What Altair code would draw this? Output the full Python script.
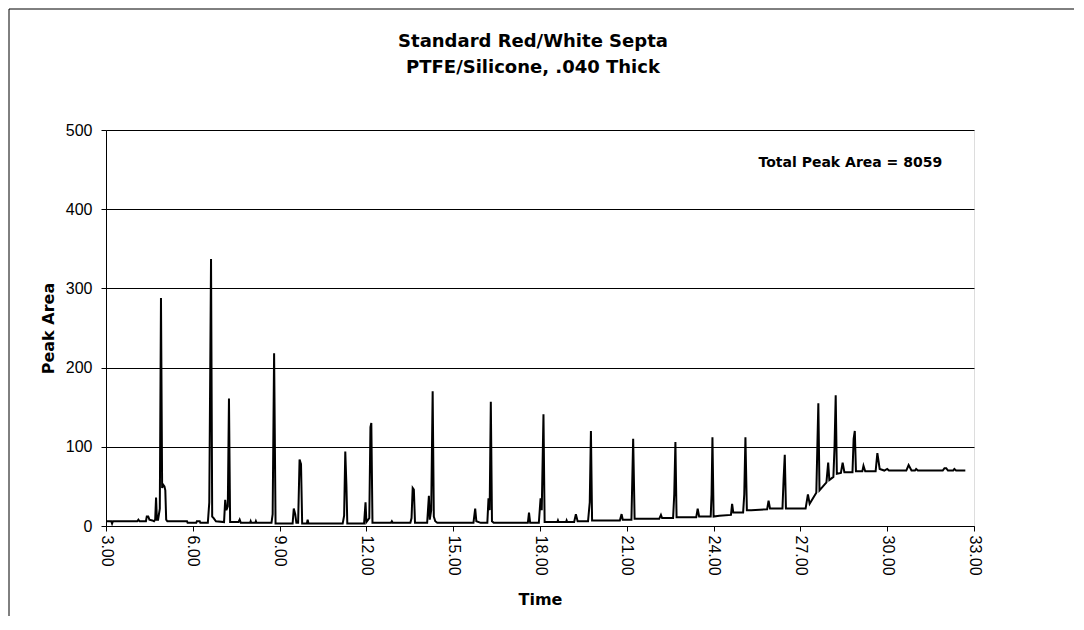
import altair as alt
import pandas as pd

# Chromatogram trace (time in minutes, peak area)
time = [
    3.00, 3.18, 3.21, 3.24, 4.08, 4.12, 4.16, 4.38, 4.41, 4.46, 4.50, 4.60, 4.66, 4.70, 4.73, 4.76,
    4.80, 4.86, 4.90, 4.94, 4.98, 5.02, 5.05, 5.08, 5.12, 5.80, 5.82, 6.12, 6.14, 6.24, 6.26, 6.52,
    6.57, 6.63, 6.67, 6.72, 6.80, 7.08, 7.12, 7.16, 7.21, 7.25, 7.29, 7.58, 7.62, 7.66, 7.98, 8.00,
    8.02, 8.16, 8.18, 8.20, 8.72, 8.76, 8.81, 8.86, 9.45, 9.49, 9.54, 9.58, 9.64, 9.69, 9.74, 9.78,
    9.94, 9.97, 10.00, 11.18, 11.23, 11.27, 11.31, 11.34, 11.92, 11.97, 12.00, 12.10, 12.14, 12.17,
    12.21, 12.85, 12.88, 12.91, 13.52, 13.56, 13.60, 13.64, 13.68, 14.10, 14.16, 14.19, 14.24, 14.29,
    14.33, 14.38, 14.45, 15.70, 15.76, 15.80, 15.95, 16.18, 16.22, 16.26, 16.30, 16.34, 16.40, 17.58,
    17.62, 17.66, 17.96, 18.02, 18.06, 18.12, 18.16, 18.60, 18.62, 18.64, 18.90, 18.92, 18.94, 19.18,
    19.24, 19.30, 19.66, 19.72, 19.76, 19.80, 20.76, 20.82, 20.86, 21.16, 21.22, 21.27, 22.12, 22.18,
    22.22, 22.60, 22.64, 22.68, 22.72, 23.40, 23.45, 23.50, 23.90, 23.93, 23.96, 24.00, 24.20, 24.60,
    24.64, 24.68, 25.02, 25.06, 25.10, 25.15, 25.30, 25.85, 25.90, 25.95, 26.38, 26.42, 26.46, 26.50,
    27.18, 27.26, 27.32, 27.55, 27.62, 27.66, 27.90, 27.96, 28.00, 28.14, 28.18, 28.22, 28.26, 28.40,
    28.46, 28.52, 28.80, 28.84, 28.88, 28.92, 29.14, 29.18, 29.24, 29.60, 29.66, 29.74, 29.90, 30.00,
    30.06, 30.66, 30.74, 30.84, 30.96, 31.00, 31.06, 31.92, 31.98, 32.04, 32.10, 32.28, 32.32, 32.38,
    32.70,
]
area = [
    6, 6, 3, 6, 6, 8, 6, 6, 12, 12, 8, 7, 6, 8, 36, 8,
    8, 22, 288, 48, 52, 50, 45, 8, 6, 6, 4, 4, 6, 6, 4, 4,
    30, 337, 12, 10, 6, 5, 33, 20, 25, 161, 5, 5, 8, 4, 4, 6,
    4, 4, 6, 4, 4, 15, 218, 3, 3, 22, 15, 4, 4, 84, 78, 3,
    3, 8, 3, 3, 13, 94, 50, 3, 3, 30, 5, 10, 125, 130,
    4, 4, 6, 4, 4, 10, 48, 46, 4, 4, 38, 8, 20, 170,
    12, 6, 4, 4, 22, 6, 4, 4, 35, 20, 157, 6, 4, 4,
    17, 4, 4, 35, 20, 141, 5, 5, 7, 5, 5, 7, 5, 5,
    15, 6, 6, 30, 120, 7, 7, 15, 8, 8, 110, 9, 9, 14,
    10, 10, 40, 106, 11, 11, 22, 12, 12, 40, 112, 12, 13, 14,
    28, 17, 17, 40, 112, 20, 20, 21, 32, 22, 22, 60, 90, 22,
    22, 40, 28, 42, 155, 45, 55, 80, 58, 62, 100, 165, 66, 67,
    80, 68, 68, 110, 120, 69, 69, 76, 69, 69, 92, 72, 70, 72,
    70, 70, 77, 70, 70, 72, 70, 70, 73, 73, 70, 70, 72, 70,
    70,
]

x_ticks = [3, 6, 9, 12, 15, 18, 21, 24, 27, 30, 33]
y_ticks = [0, 100, 200, 300, 400, 500]
title_lines = ["Standard Red/White Septa", "PTFE/Silicone, .040 Thick"]
note_text = ["Total Peak Area = 8059"]
note_time = [31.9]
note_area = [458]

df = pd.DataFrame({"time": time, "area": area, "idx": list(range(len(time)))})
notes = pd.DataFrame({"time": note_time, "area": note_area, "label": note_text})
titles1 = pd.DataFrame({"label": [title_lines[0]]})
titles2 = pd.DataFrame({"label": [title_lines[1]]})

x_scale = alt.Scale(domain=[3, 33], nice=False, zero=False)
y_scale = alt.Scale(domain=[0, 500], nice=False)

line = alt.Chart(df).mark_line(color="black", strokeWidth=2, interpolate="linear").encode(
    x=alt.X("time:Q", scale=x_scale,
            axis=alt.Axis(values=x_ticks, format=".2f", labelAngle=90, grid=False,
                          title="Time", titleX=434, titleY=73, titleAlign="center",
                          titleBaseline="middle", titleFont="DejaVu Sans", titleFontSize=16,
                          titleFontWeight="bold", titleColor="black",
                          labelFont="Liberation Sans", labelFontSize=16, labelColor="black",
                          labelPadding=4, tickSize=5, tickColor="black",
                          domainColor="black", labelFlush=False, labelOverlap=False)),
    y=alt.Y("area:Q", scale=y_scale,
            axis=alt.Axis(values=y_ticks, grid=True, gridColor="black", gridWidth=1,
                          gridOpacity=1, title="Peak Area", titleX=-58, titleY=198,
                          titleAngle=270, titleAlign="center", titleBaseline="middle",
                          titleFont="DejaVu Sans", titleFontSize=16, titleFontWeight="bold",
                          titleColor="black", labelFont="Liberation Sans", labelFontSize=16,
                          labelColor="black", labelPadding=9, tickSize=5, tickColor="black",
                          domainColor="black", labelFlush=False)),
    order="idx:Q",
)

note = alt.Chart(notes).mark_text(align="right", baseline="middle", font="DejaVu Sans",
                                  fontSize=14, fontWeight="bold", color="black").encode(
    x=alt.X("time:Q", scale=x_scale),
    y=alt.Y("area:Q", scale=y_scale),
    text="label:N",
)

title_style = dict(align="center", baseline="middle", font="DejaVu Sans", fontSize=18,
                   fontWeight="bold", color="black")
title1 = alt.Chart(titles1).mark_text(**title_style).encode(
    x=alt.value(427), y=alt.value(-88), text="label:N")
title2 = alt.Chart(titles2).mark_text(**title_style).encode(
    x=alt.value(427), y=alt.value(-62), text="label:N")

frame_left = alt.Chart(notes).mark_rule(color="black", strokeWidth=1).encode(
    x=alt.value(-97), y=alt.value(-121), y2=alt.value(520))
frame_top = alt.Chart(notes).mark_rule(color="black", strokeWidth=1).encode(
    x=alt.value(-97), x2=alt.value(990), y=alt.value(-121))

chart = alt.layer(frame_left, frame_top, line, note, title1, title2).properties(
    width=868, height=396,
    autosize=alt.AutoSizeParams(type="none"),
    padding={"left": 98, "top": 122, "right": 100, "bottom": 90},
).configure_view(stroke="#808080", strokeWidth=1).configure(background="white")

chart.save("out.html", embed_options={"renderer": "svg", "actions": False})
